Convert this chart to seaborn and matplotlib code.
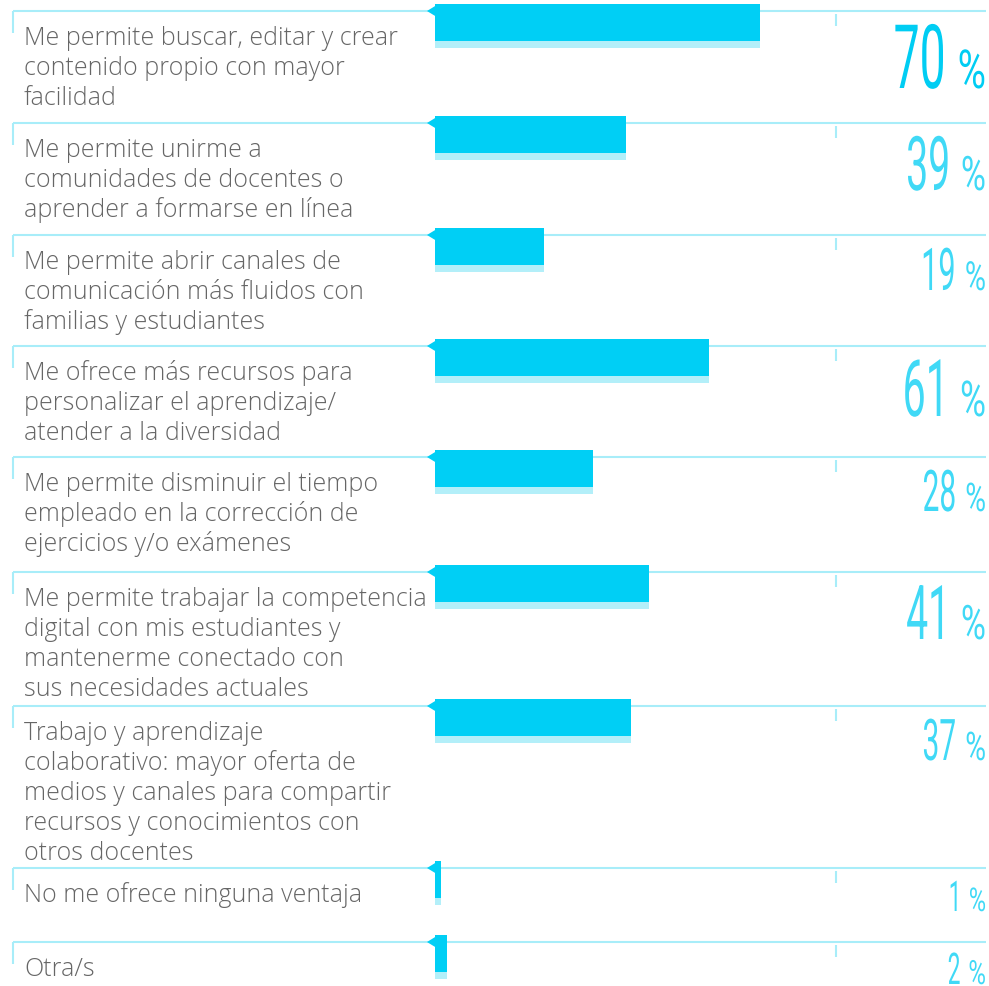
import pandas as pd
import seaborn as sns
import matplotlib.pyplot as plt
from matplotlib.patheffects import AbstractPathEffect
from matplotlib.transforms import Affine2D
from matplotlib.textpath import TextPath
from matplotlib.font_manager import FontProperties

# data
labels = [
    "Me permite buscar, editar y crear\ncontenido propio con mayor\nfacilidad",
    "Me permite unirme a\ncomunidades de docentes o\naprender a formarse en línea",
    "Me permite abrir canales de\ncomunicación más fluidos con\nfamilias y estudiantes",
    "Me ofrece más recursos para\npersonalizar el aprendizaje/\natender a la diversidad",
    "Me permite disminuir el tiempo\nempleado en la corrección de\nejercicios y/o exámenes",
    "Me permite trabajar la competencia\ndigital con mis estudiantes y\nmantenerme conectado con\nsus necesidades actuales",
    "Trabajo y aprendizaje\ncolaborativo: mayor oferta de\nmedios y canales para compartir\nrecursos y conocimientos con\notros docentes",
    "No me ofrece ninguna ventaja",
    "Otra/s",
]
percent = [70, 39, 19, 61, 28, 41, 37, 1, 2]
bar_len = [70, 41.1, 23.5, 59.0, 34.0, 46.1, 42.2, 1.3, 2.6]

# layout, in pixels
W, H, DPI = 989, 987, 100
row_top = [12, 124, 236, 347, 458, 573, 707, 869, 943]
num_h = [65, 55, 43, 58, 42, 55, 42, 31, 32]
X0, K = 435, 4.643  # pixel of zero, pixels per unit

BAR = "#00cff5"
SHADOW = "#b3eff9"
RULE = "#a8edf9"
TEXT = "#666666"


def px(x):
    return (x - X0) / K


class Squeeze(AbstractPathEffect):
    """narrow the glyphs horizontally around a fixed x (condensed look)"""

    def __init__(self, sx, anchor, trans):
        super().__init__()
        self.sx, self.anchor, self.trans = sx, anchor, trans

    def draw_path(self, renderer, gc, tpath, affine, rgbFace=None):
        x0 = self.trans.transform(self.anchor)[0]
        sq = Affine2D().translate(-x0, 0).scale(self.sx, 1).translate(x0, 0)
        renderer.draw_path(gc, tpath, affine + sq, rgbFace)


sns.set_style("white")
fig = plt.figure(figsize=(W / DPI, H / DPI), dpi=DPI)
ax = fig.add_axes([0, 0, 1, 1])

step = min(b - a for a, b in zip(row_top, row_top[1:]))
df = pd.DataFrame({
    "bar_y": [t + 11.5 for t in row_top],
    "shadow_y": [t + 33 for t in row_top],
    "value": bar_len,
})

# rules and ticks
for t in row_top:
    ax.plot([px(13), px(986)], [t, t], color=RULE, lw=1.5, solid_capstyle="butt", zorder=1)
    ax.plot([px(13), px(13)], [t, t + 22], color=RULE, lw=1.5, solid_capstyle="butt", zorder=1)
    ax.plot([px(836), px(836)], [t + 3, t + 15], color=RULE, lw=1.5, solid_capstyle="butt", zorder=1)
    ax.fill([px(427), px(436), px(436)], [t, t - 5.5, t + 5.5], color=BAR, lw=0, zorder=3)

sns.barplot(df, x="value", y="shadow_y", orient="y", native_scale=True,
            width=7 / step, color=SHADOW, saturation=1, errorbar=None,
            linewidth=0, ax=ax, zorder=2)
sns.barplot(df, x="value", y="bar_y", orient="y", native_scale=True,
            width=37 / step, color=BAR, saturation=1, errorbar=None,
            linewidth=0, ax=ax, zorder=3)

ax.set_xlim(px(0), px(W))
ax.set_ylim(H, 0)
ax.set_axis_off()

# category labels
lab_font = dict(family="Open Sans", weight="light", size=18, color=TEXT)
for t, lab in zip(row_top, labels):
    for i, line in enumerate(lab.split("\n")):
        ax.text(px(24), t + 33 + 30 * i, line, ha="left", va="baseline", **lab_font)

# percentages in a condensed look
fp = FontProperties(family="Roboto", weight="normal")
digit_em = TextPath((0, 0), "0", size=1, prop=fp).get_extents().height
pct_ext = TextPath((0, 0), "%", size=1, prop=fp).get_extents()
SX, PSX = 0.52, 0.72
scale = DPI / 72
top_val = max(percent)
rend = fig.canvas.get_renderer()
for t, v, h in zip(row_top, percent, num_h):
    col = "#00cdf3" if v == top_val else "#40d9f6"
    base = min(t + 12 + h, H - 2)
    ph = 0.45 * h + 10
    pfs = ph / (pct_ext.height * scale)
    ptxt = ax.text(px(986), base, "%", ha="right", va="baseline", fontproperties=fp,
                   fontsize=pfs, color=col,
                   path_effects=[Squeeze(PSX, (px(986), 0), ax.transData)])
    pw = pct_ext.width * pfs * scale * PSX
    box_w = ptxt.get_window_extent(renderer=rend).width
    right = 986 - max(pw + 7, box_w + 1)
    fs = h / (digit_em * scale)
    ax.text(px(right), base, str(v), ha="right", va="baseline", fontproperties=fp,
            fontsize=fs, color=col,
            path_effects=[Squeeze(SX, (px(right), 0), ax.transData)])

fig.savefig("out.png", dpi=DPI)
